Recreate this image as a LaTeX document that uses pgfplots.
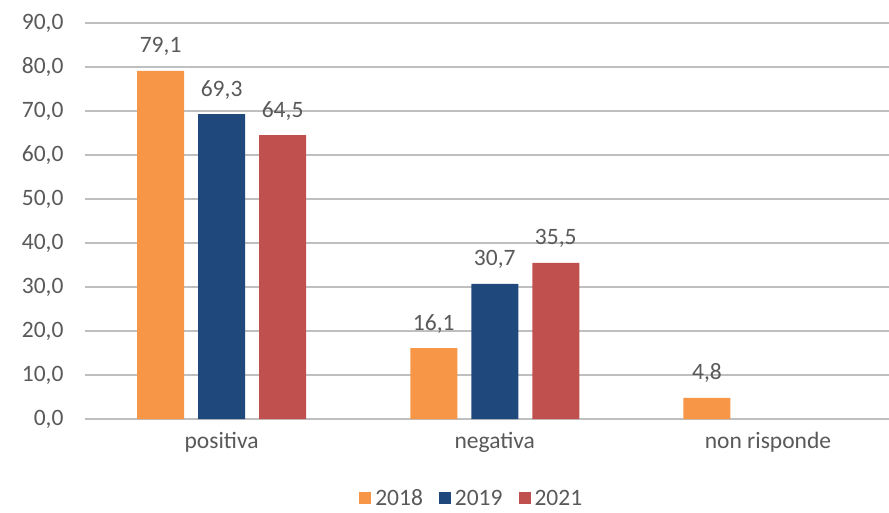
\documentclass[border=0pt]{standalone}
\usepackage{pgfplots}
\pgfplotsset{compat=1.18}
\usepackage{fontspec}
\setmainfont{Carlito}
\definecolor{c18}{HTML}{F79646}
\definecolor{c19}{HTML}{1F497D}
\definecolor{c21}{HTML}{C0504D}
\definecolor{txt}{HTML}{595959}
\definecolor{grid}{HTML}{D9D9D9}
\begin{document}
\begin{tikzpicture}
\path[use as bounding box] (0,0) rectangle (889pt,512pt);
\begin{axis}[
  at={(85pt,93pt)}, anchor=south west,
  scale only axis, width=804pt, height=396pt,
  ymin=0, ymax=90, ytick={0,10,...,90},
  xmin=-0.5, xmax=2.443,
  xtick={0,1,2}, xticklabels={positiva,negativa,non risponde},
  axis line style={draw=none},
  major tick length=0pt,
  xmajorgrids=false, ymajorgrids=true, grid style={grid, line width=1.5pt},
  ybar=14pt, bar width=47pt,
  font=\fontsize{23.5}{28}\selectfont, 
  every tick label/.append style={text=txt},
  /pgf/number format/assume math mode=true,
  yticklabel style={/pgf/number format/.cd, fixed, fixed zerofill, precision=1, use comma, /tikz/.cd, xshift=-18pt},
  xticklabel style={yshift=-10pt},
  nodes near coords,
  nodes near coords style={text=txt, anchor=base, yshift=18pt, /pgf/number format/.cd, fixed, fixed zerofill, precision=1, use comma, assume math mode=true},
  legend style={draw=none, at={(axis description cs:0.481,-0.2)}, anchor=center, legend columns=-1, text=txt, font=\fontsize{23.5}{28}\selectfont,
    /tikz/every odd column/.append style={column sep=2pt},
    /tikz/every even column/.append style={column sep=14pt}},
  legend image code/.code={\fill[#1] (0pt,-6pt) rectangle (12pt,6pt);},
  clip=false,
]
\addplot[fill=c18, draw=none] coordinates {(0,79.1) (1,16.1) (2,4.8)};
\addplot[fill=c19, draw=none] coordinates {(0,69.3) (1,30.7)};
\addplot[fill=c21, draw=none] coordinates {(0,64.5) (1,35.5)};
\legend{2018,2019,2021}
\end{axis}
\end{tikzpicture}
\end{document}
